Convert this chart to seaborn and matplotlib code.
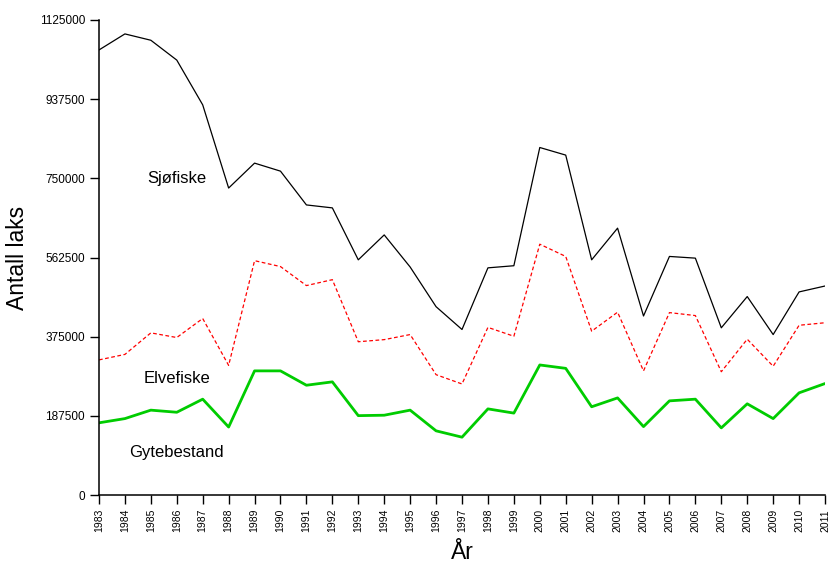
import matplotlib
matplotlib.use("Agg")
import matplotlib.pyplot as plt
import seaborn as sns
import pandas as pd

# ---- data ----
years = list(range(1983, 2012))
sjofiske = [1054000, 1092000, 1077000, 1030000, 924000, 727000, 786000, 767000,
            687000, 680000, 557000, 616000, 540000, 446000, 392000, 538000,
            543000, 823000, 805000, 557000, 632000, 424000, 565000, 561000,
            396000, 470000, 380000, 481000, 495000]
elvefiske = [320000, 333000, 384000, 373000, 418000, 307000, 555000, 541000,
             496000, 510000, 363000, 368000, 380000, 285000, 263000, 397000,
             376000, 594000, 565000, 388000, 433000, 294000, 432000, 425000,
             292000, 369000, 305000, 402000, 408000]
gytebestand = [171000, 181000, 201000, 196000, 227000, 161000, 294000, 294000,
               260000, 268000, 188000, 189000, 201000, 152000, 137000, 204000,
               194000, 308000, 300000, 209000, 230000, 162000, 223000, 227000,
               159000, 216000, 181000, 242000, 264000]
yticks = [0, 187500, 375000, 562500, 750000, 937500, 1125000]

df = pd.DataFrame({"year": years, "Sjøfiske": sjofiske,
                   "Elvefiske": elvefiske, "Gytebestand": gytebestand})

sns.set_style("ticks", {"text.color": "black", "axes.labelcolor": "black",
                        "xtick.color": "black", "ytick.color": "black"})
plt.rcParams['font.family'] = ['Liberation Sans', 'DejaVu Sans']

fig = plt.figure(figsize=(8.29, 5.66), dpi=100)
ax = fig.add_axes([0.1194, 0.1254, 0.8758, 0.8393])

sns.lineplot(data=df, x="year", y="Sjøfiske", color="black", linewidth=0.9, ax=ax)
sns.lineplot(data=df, x="year", y="Elvefiske", color="red", linewidth=0.9,
             linestyle=(0, (3, 2)), ax=ax)
sns.lineplot(data=df, x="year", y="Gytebestand", color="#00cc00", linewidth=2, ax=ax)

ax.set_xlim(1983, 2011)
ax.set_ylim(0, 1125000)
ax.set_xticks(years)
ax.set_xticklabels([str(y) for y in years], rotation=90, fontsize=7.5)
ax.set_yticks(yticks)
ax.set_yticklabels([str(v) for v in yticks], fontsize=8.5)
ax.tick_params(direction="out", length=6.5, width=1, color="black", labelcolor="black")
sns.despine(ax=ax)
for s in ["left", "bottom"]:
    ax.spines[s].set_linewidth(1.1)
    ax.spines[s].set_color("black")

ax.set_xlabel("År", fontsize=16.5, labelpad=6, color="black")
ax.set_ylabel("Antall laks", fontsize=16.5, labelpad=8, color="black")

ax.text(1986.0, 750000, "Sjøfiske", fontsize=12, ha="center", va="center", color="black")
ax.text(1986.0, 276000, "Elvefiske", fontsize=12, ha="center", va="center", color="black")
ax.text(1986.0, 101000, "Gytebestand", fontsize=12, ha="center", va="center", color="black")

fig.savefig("out.png", dpi=100)
